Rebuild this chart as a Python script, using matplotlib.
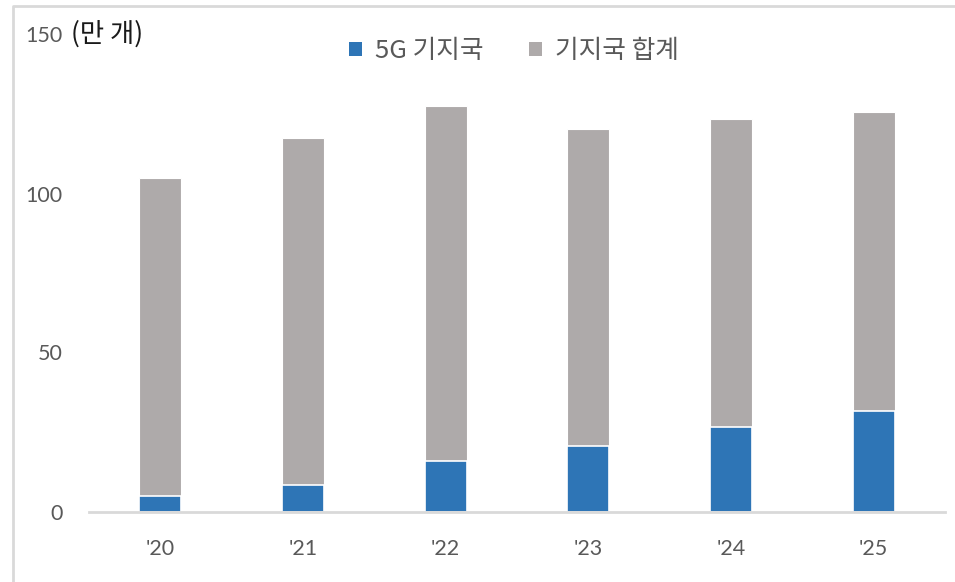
import matplotlib
matplotlib.use("Agg")
import matplotlib.pyplot as plt
from matplotlib.lines import Line2D
from matplotlib.patches import Patch

years = ["'20", "'21", "'22", "'23", "'24", "'25"]
base_5g = [5.0, 8.4, 16.0, 20.6, 26.7, 31.5]
base_total = [104.8, 117.5, 127.5, 120.3, 123.4, 125.5]
yticks = [0, 50, 100, 150]

BLUE = "#2E75B6"
GRAY = "#AEAAAA"
TXT = "#595959"
KFONT = ["Noto Sans CJK KR", "DejaVu Sans"]

W, H = 955, 582
fig = plt.figure(figsize=(W / 100, H / 100), dpi=100)
ax = fig.add_axes([89 / W, 1 - 511.5 / H, (945 - 89) / W, (511.5 - 34.5) / H])

x = list(range(len(years)))
bw = 0.295
ax.bar(x, base_total, width=bw, color=GRAY, edgecolor="white", linewidth=0.8, zorder=2)
ax.bar(x, base_5g, width=bw, color=BLUE, edgecolor="white", linewidth=1.2, zorder=3)

ax.set_xlim(-0.5, len(years) - 0.5)
ax.set_ylim(0, 150)
ax.set_yticks(yticks)
ax.set_yticklabels([str(v) for v in yticks], fontsize=15.5, color=TXT, family="Lato")
ax.set_xticks(x)
ax.set_xticklabels(years, fontsize=15.5, color=TXT, family="Lato")
ax.tick_params(axis="y", length=0, pad=19)
ax.tick_params(axis="x", length=0, pad=20)
for s in ["top", "right", "left"]:
    ax.spines[s].set_visible(False)
ax.spines["bottom"].set_color("#D9D9D9")
ax.spines["bottom"].set_linewidth(2)
ax.spines["bottom"].set_zorder(4)

# unit label next to the top tick
fig.text(71 / W, 1 - 34 / H, "(만 개)", family=KFONT, fontsize=19, color="#1a1a1a",
         ha="left", va="center")

handles = [Patch(facecolor=BLUE, edgecolor="none"), Patch(facecolor=GRAY, edgecolor="none")]
fig.legend(handles, ["5G 기지국", "기지국 합계"], loc="center", ncol=2,
           bbox_to_anchor=(514 / W, 1 - 51 / H), frameon=False,
           prop={"family": KFONT, "size": 18.5}, labelcolor=TXT,
           handlelength=0.5, handleheight=0.5, handletextpad=0.5, columnspacing=1.8)

# chart frame (left and top edges)
fig.add_artist(Line2D([13 / W, 13 / W, 1.0], [0.0, 1 - 6 / H, 1 - 6 / H],
                      transform=fig.transFigure, color="#D9D9D9", linewidth=2))

fig.savefig("out.png", dpi=100)
